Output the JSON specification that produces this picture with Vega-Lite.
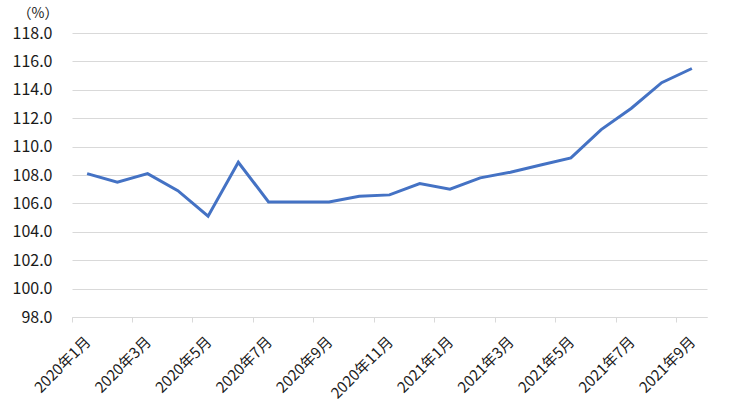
{
  "$schema": "https://vega.github.io/schema/vega-lite/v6.json",
  "width": 635,
  "height": 284,
  "autosize": {"type": "none"},
  "padding": {"left": 72, "top": 33, "right": 23, "bottom": 98},
  "background": "white",
  "config": {
    "view": {"stroke": null},
    "font": "Noto Sans CJK JP"
  },
  "data": {
    "values": [
      {"month": "2020年1月", "value": 108.1},
      {"month": "2020年2月", "value": 107.5},
      {"month": "2020年3月", "value": 108.1},
      {"month": "2020年4月", "value": 106.9},
      {"month": "2020年5月", "value": 105.1},
      {"month": "2020年6月", "value": 108.9},
      {"month": "2020年7月", "value": 106.1},
      {"month": "2020年8月", "value": 106.1},
      {"month": "2020年9月", "value": 106.1},
      {"month": "2020年10月", "value": 106.5},
      {"month": "2020年11月", "value": 106.6},
      {"month": "2020年12月", "value": 107.4},
      {"month": "2021年1月", "value": 107.0},
      {"month": "2021年2月", "value": 107.8},
      {"month": "2021年3月", "value": 108.2},
      {"month": "2021年4月", "value": 108.7},
      {"month": "2021年5月", "value": 109.2},
      {"month": "2021年6月", "value": 111.2},
      {"month": "2021年7月", "value": 112.7},
      {"month": "2021年8月", "value": 114.5},
      {"month": "2021年9月", "value": 115.5}
    ]
  },
  "mark": {"type": "line", "color": "#4472C4", "strokeWidth": 3},
  "encoding": {
    "x": {
      "field": "month",
      "type": "ordinal",
      "sort": null,
      "bandPosition": 0.5,
      "scale": {"type": "band", "paddingInner": 0, "paddingOuter": 0},
      "axis": {
        "title": null,
        "values": ["2020年1月", "2020年3月", "2020年5月", "2020年7月", "2020年9月", "2020年11月", "2021年1月", "2021年3月", "2021年5月", "2021年7月", "2021年9月"],
        "bandPosition": 0,
        "labelAngle": -45,
        "labelFontSize": 15,
        "labelColor": "#1a1a1a",
        "labelPadding": 12,
        "labelOffset": -4,
        "domainColor": "#d9d9d9",
        "domainWidth": 1,
        "tickColor": "#d9d9d9",
        "tickSize": 5,
        "grid": false
      }
    },
    "y": {
      "field": "value",
      "type": "quantitative",
      "scale": {"domain": [98, 118], "zero": false, "nice": false},
      "axis": {
        "values": [98, 100, 102, 104, 106, 108, 110, 112, 114, 116, 118],
        "format": ".1f",
        "title": "（%）",
        "titleAngle": 0,
        "titleAlign": "left",
        "titleBaseline": "alphabetic",
        "titleX": -55,
        "titleY": -16,
        "titleFontSize": 14,
        "titleFontWeight": "normal",
        "titleColor": "#1a1a1a",
        "labelFontSize": 16,
        "labelColor": "#1a1a1a",
        "labelPadding": 20,
        "ticks": false,
        "domain": false,
        "gridColor": "#d9d9d9",
        "gridWidth": 1
      }
    }
  }
}
